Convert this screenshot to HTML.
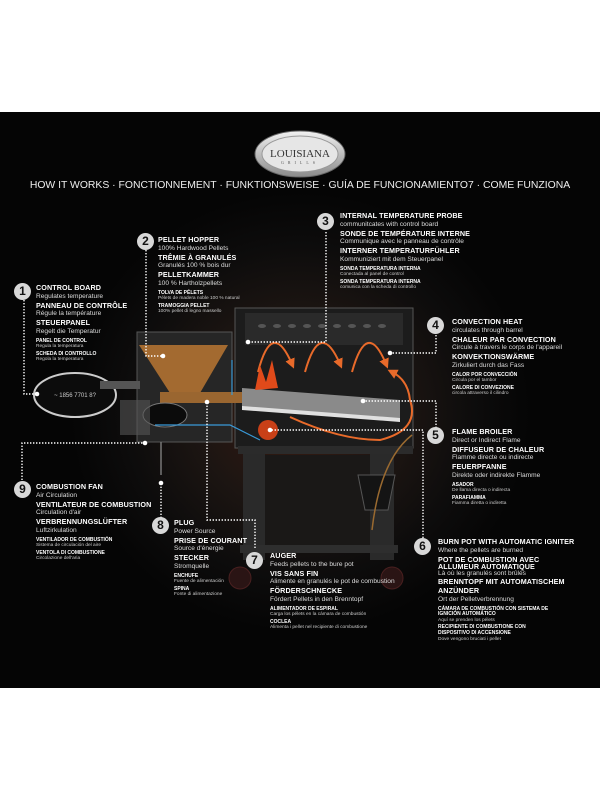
<!DOCTYPE html>
<html><head><meta charset="utf-8">
<style>
*{margin:0;padding:0;box-sizing:border-box}
body{width:600px;height:800px;background:#fff;position:relative;overflow:hidden;font-family:"Liberation Sans",sans-serif;color:#fff}
#bk{position:absolute;left:0;top:112px;width:600px;height:576px;background:radial-gradient(ellipse 230px 220px at 300px 300px,#3a1a10 0%,#1c1512 45%,#0d0c0c 75%,#050505 100%)}
.b{position:absolute;line-height:8.8px;white-space:nowrap}
.h{font-weight:bold;font-size:7.2px;letter-spacing:0.1px}
.n{font-size:6.6px;color:#ddd}
.s{font-size:5px;line-height:5.6px;font-weight:bold;margin-top:2px}
.t{font-size:4.8px;line-height:5.4px;color:#ccc}
.c{position:absolute;width:17px;height:17px;border-radius:50%;background:#d8d8d8;color:#111;font-weight:bold;font-size:12px;text-align:center;line-height:17px}
</style></head><body>
<div id="bk"></div>
<svg width="600" height="800" style="position:absolute;left:0;top:0">
<defs><linearGradient id="lg" x1="0" y1="0" x2="0" y2="1"><stop offset="0" stop-color="#f2f2f2"/><stop offset="1" stop-color="#8a8a8a"/></linearGradient>
<marker id="ar" markerWidth="5" markerHeight="5" refX="2.5" refY="2.5" orient="auto"><path d="M0 0 L5 2.5 L0 5Z" fill="#e86a2a"/></marker></defs>
<ellipse cx="300" cy="154" rx="45" ry="23" fill="url(#lg)" stroke="#666"/>
<ellipse cx="300" cy="154" rx="38" ry="18" fill="#e6e6e6" stroke="#999"/>
<text x="300" y="157" font-family="Liberation Serif" font-size="11" fill="#333" text-anchor="middle">LOUISIANA</text>
<text x="300" y="164" font-family="Liberation Serif" font-size="4" fill="#555" text-anchor="middle" letter-spacing="4">GRILLS</text>
<!-- cart -->
<rect x="243" y="448" width="22" height="112" fill="#2a2a2a"/>
<rect x="370" y="448" width="24" height="112" fill="#2a2a2a"/>
<rect x="265" y="455" width="105" height="95" fill="#1a1817"/>
<rect x="240" y="545" width="158" height="8" fill="#2e2e2e"/>
<circle cx="240" cy="578" r="11" fill="#2a1414" stroke="#4a2020"/>
<circle cx="392" cy="578" r="11" fill="#2a1414" stroke="#4a2020"/>
<path d="M358 475 L395 475 L388 510 L365 510Z" fill="#141414" stroke="#555"/>
<!-- barrel -->
<rect x="235" y="308" width="178" height="140" fill="#1c1c1c" stroke="#555"/>
<rect x="245" y="313" width="158" height="32" fill="#2a2a2a"/>
<g fill="#555"><ellipse cx="262" cy="326" rx="4" ry="2"/><ellipse cx="277" cy="326" rx="4" ry="2"/><ellipse cx="292" cy="326" rx="4" ry="2"/><ellipse cx="307" cy="326" rx="4" ry="2"/><ellipse cx="322" cy="326" rx="4" ry="2"/><ellipse cx="337" cy="326" rx="4" ry="2"/><ellipse cx="352" cy="326" rx="4" ry="2"/><ellipse cx="367" cy="326" rx="4" ry="2"/><ellipse cx="382" cy="326" rx="4" ry="2"/></g>
<rect x="238" y="446" width="175" height="8" fill="#2b2b2b"/>
<!-- hopper -->
<rect x="137" y="332" width="95" height="110" fill="#262626" stroke="#555"/>
<path d="M139 345 L228 345 L200 393 L170 393Z" fill="#a36a30"/>
<rect x="160" y="392" width="82" height="11" fill="#9a6630"/>
<ellipse cx="165" cy="415" rx="22" ry="12" fill="#0b0b0b" stroke="#777"/>
<rect x="120" y="400" width="30" height="35" fill="#555" opacity="0.6"/>
<path d="M242 388 L400 400 L400 420 L242 408Z" fill="#8a8a8a"/>
<path d="M242 406 L400 418 L400 422 L242 410Z" fill="#e0e0e0"/>
<!-- flames/arrows -->
<g fill="none" stroke="#e86a2a" stroke-width="2">
<path d="M258 372 Q272 318 292 364" marker-end="url(#ar)"/><path d="M305 372 Q320 318 340 364" marker-end="url(#ar)"/><path d="M352 372 Q367 318 386 364" marker-end="url(#ar)"/>
<path d="M290 417 Q340 440 380 440 Q420 430 410 400 Q408 380 392 372" marker-end="url(#ar)"/></g>
<circle cx="268" cy="430" r="10" fill="#c84018"/><path d="M255 390 L260 365 L266 382 L272 360 L278 388Z" fill="#e04a1a"/>
<path d="M412 435 Q380 460 372 530" stroke="#9a6a30" fill="none" stroke-width="1.5"/>
<path d="M232 395 L232 360" stroke="#3a9ad8" fill="none" stroke-width="1.2"/>
<path d="M155 425 L230 425 L260 440" stroke="#3a9ad8" fill="none" stroke-width="1.2"/>
<path d="M161 442 V475" stroke="#777" stroke-width="1.5"/>
<!-- control board -->
<ellipse cx="75" cy="395" rx="41" ry="22" fill="#0c0c0c" stroke="#ccc" stroke-width="2"/>
<text x="75" y="397" font-size="6" fill="#ccc" text-anchor="middle">~ 1856  7701  8?</text>
<rect x="100" y="381" width="40" height="8" fill="#555"/>
<!-- dotted connectors -->
<g fill="none" stroke="#fff" stroke-width="1.4" stroke-dasharray="1.4 1.6">
<path d="M24 300 V394 H37"/><path d="M146 250 V356 H163"/><path d="M326 232 V342 H248"/>
<path d="M436 335 V353 H390"/><path d="M436 428 V401 H363"/><path d="M22 480 V443 H145"/>
<path d="M161 518 V485"/><path d="M255 548 V520 H207 V402"/><path d="M423 538 V430 H270"/>
</g>
<g fill="#fff"><circle cx="37" cy="394" r="2.3"/><circle cx="163" cy="356" r="2.3"/><circle cx="248" cy="342" r="2.3"/><circle cx="390" cy="353" r="2.3"/><circle cx="363" cy="401" r="2.3"/><circle cx="145" cy="443" r="2.3"/><circle cx="161" cy="483" r="2.3"/><circle cx="207" cy="402" r="2.3"/><circle cx="270" cy="430" r="2.3"/></g>
</svg>
<div class="b" style="left:0;width:600px;top:182px;text-align:center;font-size:10.4px;color:#eee">HOW IT WORKS · FONCTIONNEMENT · FUNKTIONSWEISE · GUÍA DE FUNCIONAMIENTO7 · COME FUNZIONA</div>

<div class="c" style="left:317px;top:213px">3</div>
<div class="b" style="left:340px;top:212px"><div class="h">INTERNAL TEMPERATURE PROBE</div><div class="n">communitcates with control board</div><div class="h">SONDE DE TEMPÉRATURE INTERNE</div><div class="n">Communique avec le panneau de contrôle</div><div class="h">INTERNER TEMPERATURFÜHLER</div><div class="n">Kommuniziert mit dem Steuerpanel</div><div class="s">SONDA TEMPERATURA INTERNA</div><div class="t">Conectada al panel de control</div><div class="s">SONDA TEMPERATURA INTERNA</div><div class="t">comunica con la scheda di controllo</div></div>

<div class="c" style="left:137px;top:233px">2</div>
<div class="b" style="left:158px;top:236px"><div class="h">PELLET HOPPER</div><div class="n">100% Hardwood Pellets</div><div class="h">TRÊMIE À GRANULÉS</div><div class="n">Granulés 100 % bois dur</div><div class="h">PELLETKAMMER</div><div class="n">100 % Hartholzpellets</div><div class="s">TOLVA DE PÉLETS</div><div class="t">Pélets de madera noble 100 % natural</div><div class="s">TRAMOGGIA PELLET</div><div class="t">100% pellet di legno massello</div></div>

<div class="c" style="left:14px;top:283px">1</div>
<div class="b" style="left:36px;top:284px"><div class="h">CONTROL BOARD</div><div class="n">Regulates temperature</div><div class="h">PANNEAU DE CONTRÔLE</div><div class="n">Régule la température</div><div class="h">STEUERPANEL</div><div class="n">Regelt die Temperatur</div><div class="s">PANEL DE CONTROL</div><div class="t">Regula la temperatura</div><div class="s">SCHEDA DI CONTROLLO</div><div class="t">Regola la temperatura</div></div>

<div class="c" style="left:427px;top:317px">4</div>
<div class="b" style="left:452px;top:318px"><div class="h">CONVECTION HEAT</div><div class="n">circulates through barrel</div><div class="h">CHALEUR PAR CONVECTION</div><div class="n">Circule à travers le corps de l'appareil</div><div class="h">KONVEKTIONSWÄRME</div><div class="n">Zirkuliert durch das Fass</div><div class="s">CALOR POR CONVECCIÓN</div><div class="t">Circula por el tambor</div><div class="s">CALORE DI CONVEZIONE</div><div class="t">circola attraverso il cilindro</div></div>

<div class="c" style="left:427px;top:427px">5</div>
<div class="b" style="left:452px;top:428px"><div class="h">FLAME BROILER</div><div class="n">Direct or Indirect Flame</div><div class="h">DIFFUSEUR DE CHALEUR</div><div class="n">Flamme directe ou indirecte</div><div class="h">FEUERPFANNE</div><div class="n">Direkte oder indirekte Flamme</div><div class="s">ASADOR</div><div class="t">De llama directa o indirecta</div><div class="s">PARAFIAMMA</div><div class="t">Fiamma diretta o indiretta</div></div>

<div class="c" style="left:14px;top:481px">9</div>
<div class="b" style="left:36px;top:483px"><div class="h">COMBUSTION FAN</div><div class="n">Air Circulation</div><div class="h">VENTILATEUR DE COMBUSTION</div><div class="n">Circulation d'air</div><div class="h">VERBRENNUNGSLÜFTER</div><div class="n">Luftzirkulation</div><div class="s">VENTILADOR DE COMBUSTIÓN</div><div class="t">Sistema de circulación del aire</div><div class="s">VENTOLA DI COMBUSTIONE</div><div class="t">Circolazione dell'aria</div></div>

<div class="c" style="left:152px;top:517px">8</div>
<div class="b" style="left:174px;top:519px"><div class="h">PLUG</div><div class="n">Power Source</div><div class="h">PRISE DE COURANT</div><div class="n">Source d'énergie</div><div class="h">STECKER</div><div class="n">Stromquelle</div><div class="s">ENCHUFE</div><div class="t">Fuente de alimentación</div><div class="s">SPINA</div><div class="t">Fonte di alimentazione</div></div>

<div class="c" style="left:246px;top:552px">7</div>
<div class="b" style="left:270px;top:552px"><div class="h">AUGER</div><div class="n">Feeds pellets to the bure pot</div><div class="h">VIS SANS FIN</div><div class="n">Alimente en granulés le pot de combustion</div><div class="h">FÖRDERSCHNECKE</div><div class="n">Fördert Pellets in den Brenntopf</div><div class="s">ALIMENTADOR DE ESPIRAL</div><div class="t">Carga los pélets en la cámara de combustión</div><div class="s">COCLEA</div><div class="t">Alimenta i pellet nel recipiente di combustione</div></div>

<div class="c" style="left:414px;top:538px">6</div>
<div class="b" style="left:438px;top:538px"><div class="h">BURN POT WITH AUTOMATIC IGNITER</div><div class="n">Where the pellets are burned</div><div class="h" style="line-height:7px">POT DE COMBUSTION AVEC<br>ALLUMEUR AUTOMATIQUE</div><div class="n">Là où les granulés sont brûlés</div><div class="h">BRENNTOPF MIT AUTOMATISCHEM<br>ANZÜNDER</div><div class="n">Ort der Pelletverbrennung</div><div class="s">CÁMARA DE COMBUSTIÓN CON SISTEMA DE<br>IGNICIÓN AUTOMÁTICO</div><div class="t">Aquí se prenden los pélets</div><div class="s">RECIPIENTE DI COMBUSTIONE CON<br>DISPOSITIVO DI ACCENSIONE</div><div class="t">Dove vengono bruciati i pellet</div></div>
</body></html>
